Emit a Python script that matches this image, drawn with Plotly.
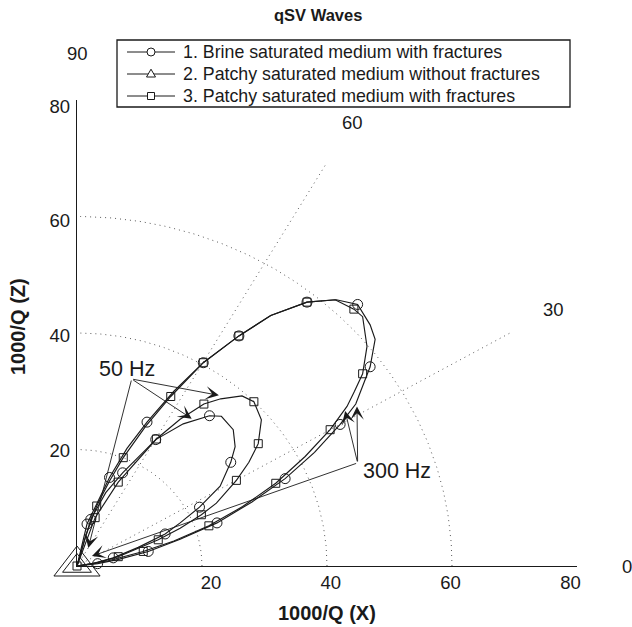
import numpy as np
import plotly.graph_objects as go

# ---------------- data ----------------
# Series 1: brine saturated medium with fractures (circles)
s1_big_x = [0, 1.6, 5.2, 8.0, 11.2, 15.5, 20.2, 25.9, 31.0, 36.8, 41.5, 44.9, 46.9, 47.7, 46.9, 45.6, 44.6, 42.1, 38.0, 33.3, 28.0, 22.4, 16.5, 11.4, 6.5, 3.3, 0]
s1_big_y = [0, 7.2, 15.2, 20.2, 24.7, 30.0, 34.9, 39.5, 43.0, 45.3, 45.7, 44.9, 41.4, 38.9, 34.2, 30.5, 27.8, 24.3, 19.5, 15.0, 11.0, 7.4, 4.6, 2.5, 1.1, 0.4, 0]
s1_big_mx = [1.6, 5.2, 11.2, 20.2, 25.9, 36.8, 44.9, 46.9, 42.1, 33.3, 22.4, 11.4, 3.3]
s1_big_my = [7.2, 15.2, 24.7, 34.9, 39.5, 45.3, 44.9, 34.2, 24.3, 15.0, 7.4, 2.5, 0.4]

s1_small_x = [0, 2.2, 4.6, 7.3, 12.6, 17.0, 21.2, 23.1, 25.0, 25.3, 24.6, 22.9, 19.6, 16.5, 14.1, 9.8, 5.8, 2.5, 0]
s1_small_y = [0, 8.0, 12.6, 16.0, 21.7, 24.4, 25.8, 25.7, 23.4, 20.5, 17.8, 13.7, 10.1, 7.4, 5.5, 3.2, 1.4, 0.4, 0]
s1_small_mx = [2.2, 7.3, 12.6, 21.2, 24.6, 19.6, 14.1, 5.8]
s1_small_my = [8.0, 16.0, 21.7, 25.8, 17.8, 10.1, 5.5, 1.4]

# Series 2: patchy saturated medium without fractures (triangles, at origin)
s2_x = [0.0]
s2_y = [0.0]

# Series 3: patchy saturated medium with fractures (squares)
s3_big_x = [0, 1.4, 3.15, 5.2, 7.4, 11.0, 15.0, 20.2, 25.9, 31.0, 36.8, 41.3, 44.3, 45.7, 46.4, 45.7, 44.4, 43.2, 40.5, 36.5, 31.8, 26.5, 21.1, 15.5, 10.6, 5.0, 0]
s3_big_y = [0, 5.2, 10.3, 14.6, 18.6, 24.0, 29.1, 34.9, 39.5, 43.0, 45.3, 45.7, 44.1, 42.8, 37.7, 33.0, 30.0, 27.4, 23.4, 18.8, 14.2, 10.2, 6.9, 4.3, 2.5, 0.9, 0]
s3_big_mx = [3.15, 7.4, 15.0, 20.2, 25.9, 36.8, 44.3, 45.7, 40.5, 31.8, 21.1, 10.6, 0.0]
s3_big_my = [10.3, 18.6, 29.1, 34.9, 39.5, 45.3, 44.1, 33.0, 23.4, 14.2, 6.9, 2.5, 0.0]

s3_small_x = [0, 2.9, 6.6, 12.7, 16.5, 20.3, 23.0, 26.4, 28.3, 29.5, 29.0, 27.5, 25.5, 22.3, 19.9, 16.5, 13.0, 9.5, 6.6, 3.0, 0]
s3_small_y = [0, 8.3, 14.4, 21.8, 25.2, 27.8, 28.7, 29.2, 28.2, 25.1, 21.0, 17.8, 14.7, 10.8, 8.8, 6.5, 4.5, 2.9, 1.6, 0.5, 0]
s3_small_mx = [2.9, 6.6, 12.7, 20.3, 28.3, 29.0, 25.5, 19.9, 13.0, 6.6]
s3_small_my = [8.3, 14.4, 21.8, 27.8, 28.2, 21.0, 14.7, 8.8, 4.5, 1.6]

legend_names = ["1. Brine saturated medium with fractures",
                "2. Patchy saturated medium without fractures",
                "3. Patchy saturated medium with fractures"]

ring_radii = [20, 40, 60]
spoke_angles = [30, 60]
angle_labels = [0, 30, 60, 90]
r_max = 80
tick_vals = [20, 40, 60, 80]

# ---------------- figure ----------------
INK = "#1a1a1a"
FONT = "Liberation Sans, Arial, sans-serif"
W, H = 632, 627
ML, MR, MT, MB = 77, 55, 100, 61
PW, PH = W - ML - MR, H - MT - MB


def px(xp):  # page pixel -> paper x
    return (xp - ML) / PW


def py(yp):  # page pixel -> paper y
    return (H - MB - yp) / PH


fig = go.Figure()

# polar grid (dotted)
grid_style = dict(color="#5a5a5a", width=1, dash="1px,4px")
th = np.linspace(0, np.pi / 2, 181)
for r in ring_radii:
    fig.add_trace(go.Scatter(x=r * np.cos(th), y=r * np.sin(th), mode="lines",
                             line=grid_style, showlegend=False, hoverinfo="skip"))
for a in spoke_angles:
    t = np.deg2rad(a)
    fig.add_trace(go.Scatter(x=[0, r_max * np.cos(t)], y=[0, r_max * np.sin(t)], mode="lines",
                             line=grid_style, showlegend=False, hoverinfo="skip"))

line_style = dict(color=INK, width=1.15)


def add_curve(xs, ys, mx, my, symbol, msize, name):
    fig.add_trace(go.Scatter(x=xs, y=ys, mode="lines", line=line_style, name=name,
                             showlegend=False, hoverinfo="skip"))
    fig.add_trace(go.Scatter(x=mx, y=my, mode="markers", cliponaxis=False, name=name,
                             marker=dict(symbol=symbol, size=msize, color=INK,
                                         line=dict(color=INK, width=1)),
                             showlegend=False, hoverinfo="skip"))


add_curve(s1_big_x, s1_big_y, s1_big_mx, s1_big_my, "circle-open", 10, legend_names[0])
add_curve(s1_small_x, s1_small_y, s1_small_mx, s1_small_my, "circle-open", 10, legend_names[0])
add_curve(s3_big_x, s3_big_y, s3_big_mx, s3_big_my, "square-open", 8, legend_names[2])
add_curve(s3_small_x, s3_small_y, s3_small_mx, s3_small_my, "square-open", 8, legend_names[2])

# series 2 at origin (large triangles)
for sz in (40, 25):
    fig.add_trace(go.Scatter(x=s2_x, y=s2_y, mode="markers", cliponaxis=False, name=legend_names[1],
                             marker=dict(symbol="triangle-up-open", size=sz, color=INK,
                                         line=dict(color=INK, width=1)),
                             showlegend=False, hoverinfo="skip"))

# dummy trace for the label axes
fig.add_trace(go.Scatter(x=[None], y=[None], xaxis="x2", yaxis="y2", showlegend=False, hoverinfo="skip"))

annotations = []
shapes = []

# title
annotations.append(dict(x=px(318), y=py(15), xref="paper", yref="paper", text="<b>qSV Waves</b>",
                        showarrow=False, font=dict(size=16.5, color=INK, family=FONT),
                        xanchor="center", yanchor="middle"))

# angle labels at 1.1*r_max
for a in angle_labels:
    t = np.deg2rad(a)
    annotations.append(dict(x=1.1 * np.cos(t), y=1.1 * np.sin(t),
                            xref="paper", yref="paper", text=str(a), showarrow=False,
                            font=dict(size=18.5, color=INK, family=FONT),
                            xanchor="center", yanchor="middle"))

# frequency annotations
arrow_common = dict(xref="x", yref="y", axref="x", ayref="y", text="", showarrow=True,
                    arrowhead=3, arrowsize=2.5, arrowwidth=0.9, arrowcolor=INK, standoff=0)
for tip in [(22.7, 29.3), (18.35, 25.3), (1.8, 3.1)]:
    annotations.append(dict(x=tip[0], y=tip[1], ax=8.75, ay=32.1, **arrow_common))
for tip in [(42.9, 26.6), (44.8, 27.4), (2.4, 1.7)]:
    annotations.append(dict(x=tip[0], y=tip[1], ax=44.9, ay=17.7, **arrow_common))
annotations.append(dict(x=7.95, y=33.8, xref="x", yref="y", text="50 Hz", showarrow=False,
                        font=dict(size=21.5, color=INK, family=FONT)))
annotations.append(dict(x=51.2, y=16.3, xref="x", yref="y", text="300 Hz", showarrow=False,
                        font=dict(size=21.5, color=INK, family=FONT)))

# axis titles
annotations.append(dict(x=px(327), y=py(613), xref="paper", yref="paper", text="<b>1000/Q (X)</b>",
                        showarrow=False, font=dict(size=20, color=INK, family=FONT),
                        xanchor="center", yanchor="middle"))
annotations.append(dict(x=px(18), y=py(327), xref="paper", yref="paper", text="<b>1000/Q (Z)</b>",
                        showarrow=False, textangle=-90, font=dict(size=20, color=INK, family=FONT),
                        xanchor="center", yanchor="middle"))

# legend (framed box with line+marker samples)
shapes.append(dict(type="rect", xref="paper", yref="paper", x0=px(117), x1=px(570), y0=py(107), y1=py(40),
                   line=dict(color=INK, width=1.3), fillcolor="white", layer="below"))
legend_rows = [52, 74, 96]
for name, yrow, sym in zip(legend_names, legend_rows, ["circle", "triangle", "square"]):
    yy = py(yrow)
    shapes.append(dict(type="line", xref="paper", yref="paper", x0=px(127), x1=px(175), y0=yy, y1=yy,
                       line=dict(color=INK, width=1)))
    mk = dict(xref="paper", yref="paper", xsizemode="pixel", ysizemode="pixel",
              xanchor=px(151), yanchor=yy, line=dict(color=INK, width=1), fillcolor="white")
    if sym == "circle":
        shapes.append(dict(type="circle", x0=-4, x1=4, y0=-4, y1=4, **mk))
    elif sym == "square":
        shapes.append(dict(type="rect", x0=-3.5, x1=3.5, y0=-3.5, y1=3.5, **mk))
    else:
        shapes.append(dict(type="path", path="M-4.5,-3 L4.5,-3 L0,4.8 Z", **mk))
    annotations.append(dict(x=px(181), y=yy, xref="paper", yref="paper", text=name, showarrow=False,
                            xanchor="left", yanchor="middle", font=dict(size=17.8, color=INK, family=FONT)))

axis_common = dict(showgrid=False, zeroline=False, ticks="", showline=True,
                   linecolor=INK, linewidth=1.4, range=[0, 80], fixedrange=True)

fig.update_layout(
    width=W, height=H, autosize=False,
    margin=dict(l=ML, r=MR, t=MT, b=MB),
    paper_bgcolor="white", plot_bgcolor="white",
    font=dict(family=FONT, color=INK),
    xaxis=dict(showticklabels=False, **axis_common),
    yaxis=dict(showticklabels=False, **axis_common),
    xaxis2=dict(overlaying="x", anchor="y", side="bottom", range=[-2.37, 81.1], tickvals=tick_vals,
                showgrid=False, zeroline=False, showline=False, ticks="", ticklabelstandoff=3,
                tickfont=dict(size=18.5, color=INK, family=FONT), fixedrange=True),
    yaxis2=dict(overlaying="y", anchor="x", side="left", range=[-0.24, 81.1], tickvals=tick_vals,
                showgrid=False, zeroline=False, showline=False, ticks="", ticklabelstandoff=6,
                tickfont=dict(size=18.5, color=INK, family=FONT), fixedrange=True),
    annotations=annotations,
    shapes=shapes,
    showlegend=False,
)

fig.write_html("out.html", config={"displayModeBar": False},
               post_script="document.body.style.margin='0px';")
